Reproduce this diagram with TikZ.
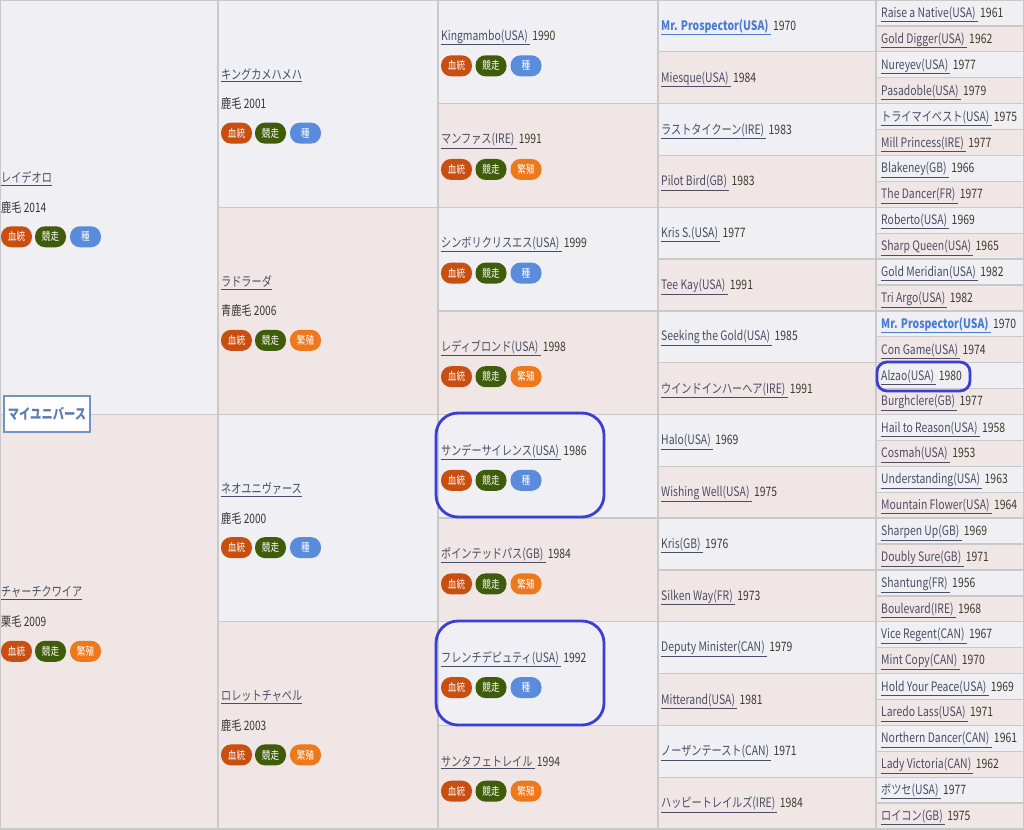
\documentclass[tikz,border=0pt]{standalone}
\usepackage{fontspec}
\setmainfont[FakeStretch=0.8]{Noto Sans CJK JP}
\newfontfamily\jpf[FakeStretch=0.78]{Noto Sans CJK JP}
\newcommand\jp[1]{{\jpf #1}}
\def\sirename{bsire}
\definecolor{mcol}{HTML}{EFEFF4}
\definecolor{fcol}{HTML}{F1E6E6}
\definecolor{gridc}{HTML}{C9C9C9}
\definecolor{namec}{HTML}{4A4D63}
\definecolor{yearc}{HTML}{3B3A2C}
\definecolor{darkc}{HTML}{333333}
\definecolor{prosc}{HTML}{4A7BD3}
\definecolor{bloodc}{HTML}{C94F10}
\definecolor{racec}{HTML}{3F5C0B}
\definecolor{sirec}{HTML}{5B8BDB}
\definecolor{marec}{HTML}{EE781C}
\definecolor{hlc}{HTML}{3B3ED4}
\definecolor{myc}{HTML}{7093C4}
\definecolor{myt}{HTML}{5A7CB6}
\tikzset{
  cellm/.style={fill=mcol, draw=gridc, line width=1.3pt},
  cellf/.style={fill=fcol, draw=gridc, line width=1.3pt},
  hn/.style={anchor=west, inner sep=0pt, yshift=-1.5pt, text=namec, font=\fontsize{13}{15}\selectfont},
  hp/.style={hn, text=prosc, font=\fontsize{13}{15}\selectfont\bfseries},
  hsub/.style={anchor=west, inner sep=0pt, text=darkc, font=\fontsize{13}{15}\selectfont},
  badge/.style={rounded corners=10pt, minimum width=31pt, minimum height=21pt, inner sep=0pt, text=white, font=\jpf\fontsize{11}{12}\selectfont},
  bblood/.style={badge, fill=bloodc},
  brace/.style={badge, fill=racec},
  bsire/.style={badge, fill=sirec},
  bmare/.style={badge, fill=marec},
  hl/.style={draw=hlc, line width=2.8pt, rounded corners=22pt},
  hlsmall/.style={draw=hlc, line width=2.8pt, rounded corners=10pt},
  mybox/.style={draw=myc, line width=2.8pt, fill=white, minimum width=86pt, minimum height=36pt, inner sep=0pt, text=myt, font=\jpf\fontsize{14.5}{16}\selectfont\bfseries},
}
\newcommand\yr[1]{{\mdseries\color{yearc}#1}}
\begin{document}
\begin{tikzpicture}[x=1pt,y=-1pt]
\useasboundingbox (0,0) rectangle (1024,829);
% cells
\foreach \xa/\xb/\n in {0/218/2,218/438/4,438/658/8,658/876/16,876/1024/32}{
  \foreach \i in {1,...,\n}{
    \pgfmathsetmacro\ya{(\i-1)/\n*829}
    \pgfmathsetmacro\yb{\i/\n*829}
    \ifodd\i \def\cs{cellm}\else\def\cs{cellf}\fi
    \path[\cs] (\xa,\ya) rectangle (\xb,\yb);
  }
}
% generation 1
\foreach \nm/\sub/\last [count=\i from 0] in {%
  レイデオロ/鹿毛 2014/bsire,
  チャーチクワイア/栗毛 2009/bmare}{
  \pgfmathsetmacro\yc{(\i+0.5)/2*829}
  \node[hn] (g1-\i) at (1,\yc-30) {\jp{\underline{\nm}}};
  \node[hsub] (g1s-\i) at (1,\yc) {\jp{\sub}};
  \node[bblood] (g1a-\i) at (16.5,\yc+29.5) {血統};
  \node[brace] (g1b-\i) at (50.5,\yc+29.5) {競走};
  \node[\last] (g1c-\i) at (85.5,\yc+29.5) {\ifx\last\sirename 種\else 繁殖\fi};
}
% generation 2
\foreach \nm/\sub/\last [count=\i from 0] in {%
  キングカメハメハ/鹿毛 2001/bsire,
  ラドラーダ/青鹿毛 2006/bmare,
  ネオユニヴァース/鹿毛 2000/bsire,
  ロレットチャペル/鹿毛 2003/bmare}{
  \pgfmathsetmacro\yc{(\i+0.5)/4*829}
  \node[hn] (g2-\i) at (221,\yc-30) {\jp{\underline{\nm}}};
  \node[hsub] (g2s-\i) at (221,\yc) {\jp{\sub}};
  \node[bblood] (g2a-\i) at (236.5,\yc+29.5) {血統};
  \node[brace] (g2b-\i) at (270.5,\yc+29.5) {競走};
  \node[\last] (g2c-\i) at (305.5,\yc+29.5) {\ifx\last\sirename 種\else 繁殖\fi};
}
% generation 3
\foreach \nm/\y/\last [count=\i from 0] in {%
  Kingmambo(USA)/1990/bsire,
  \jp{マンファス}(IRE)/1991/bmare,
  \jp{シンボリクリスエス}(USA)/1999/bsire,
  \jp{レディブロンド}(USA)/1998/bmare,
  \jp{サンデーサイレンス}(USA)/1986/bsire,
  \jp{ポインテッドパス}(GB)/1984/bmare,
  \jp{フレンチデピュティ}(USA)/1992/bsire,
  \jp{サンタフェトレイル}/1994/bmare}{
  \pgfmathsetmacro\yc{(\i+0.5)/8*829}
  \node[hn] (g3-\i) at (441,\yc-16) {\underline{\nm\,}\ \yr{\y}};
  \node[bblood] (g3a-\i) at (456.5,\yc+14) {血統};
  \node[brace] (g3b-\i) at (491,\yc+14) {競走};
  \node[\last] (g3c-\i) at (526,\yc+14) {\ifx\last\sirename 種\else 繁殖\fi};
}
% generation 4
\foreach \st/\nm/\y [count=\i from 0] in {%
  hp/Mr. Prospector(USA)/1970,
  hn/Miesque(USA)/1984,
  hn/\jp{ラストタイクーン}(IRE)/1983,
  hn/Pilot Bird(GB)/1983,
  hn/Kris S.(USA)/1977,
  hn/Tee Kay(USA)/1991,
  hn/Seeking the Gold(USA)/1985,
  hn/\jp{ウインドインハーヘア}(IRE)/1991,
  hn/Halo(USA)/1969,
  hn/Wishing Well(USA)/1975,
  hn/Kris(GB)/1976,
  hn/Silken Way(FR)/1973,
  hn/Deputy Minister(CAN)/1979,
  hn/Mitterand(USA)/1981,
  hn/\jp{ノーザンテースト}(CAN)/1971,
  hn/\jp{ハッピートレイルズ}(IRE)/1984}{
  \node[\st] (g4-\i) at (661,{(\i+0.5)/16*829}) {\underline{\nm\,}\ \yr{\y}};
}
% generation 5
\foreach \st/\nm/\y [count=\i from 0] in {%
  hn/Raise a Native(USA)/1961,
  hn/Gold Digger(USA)/1962,
  hn/Nureyev(USA)/1977,
  hn/Pasadoble(USA)/1979,
  hn/\jp{トライマイベスト}(USA)/1975,
  hn/Mill Princess(IRE)/1977,
  hn/Blakeney(GB)/1966,
  hn/The Dancer(FR)/1977,
  hn/Roberto(USA)/1969,
  hn/Sharp Queen(USA)/1965,
  hn/Gold Meridian(USA)/1982,
  hn/Tri Argo(USA)/1982,
  hp/Mr. Prospector(USA)/1970,
  hn/Con Game(USA)/1974,
  hn/Alzao(USA)/1980,
  hn/Burghclere(GB)/1977,
  hn/Hail to Reason(USA)/1958,
  hn/Cosmah(USA)/1953,
  hn/Understanding(USA)/1963,
  hn/Mountain Flower(USA)/1964,
  hn/Sharpen Up(GB)/1969,
  hn/Doubly Sure(GB)/1971,
  hn/Shantung(FR)/1956,
  hn/Boulevard(IRE)/1968,
  hn/Vice Regent(CAN)/1967,
  hn/Mint Copy(CAN)/1970,
  hn/Hold Your Peace(USA)/1969,
  hn/Laredo Lass(USA)/1971,
  hn/Northern Dancer(CAN)/1961,
  hn/Lady Victoria(CAN)/1962,
  hn/\jp{ボツセ}(USA)/1977,
  hn/\jp{ロイコン}(GB)/1975}{
  \node[\st] (g5-\i) at (881,{(\i+0.5)/32*829}) {\underline{\nm\,}\ \yr{\y}};
}
% highlights
\draw[hl] (436,413) rectangle (604,517);
\draw[hl] (436,621) rectangle (604,725);
\draw[hlsmall] (877,362) rectangle (970,391);
\node[mybox] (me) at (47,414) {マイユニバース};
\end{tikzpicture}
\end{document}
